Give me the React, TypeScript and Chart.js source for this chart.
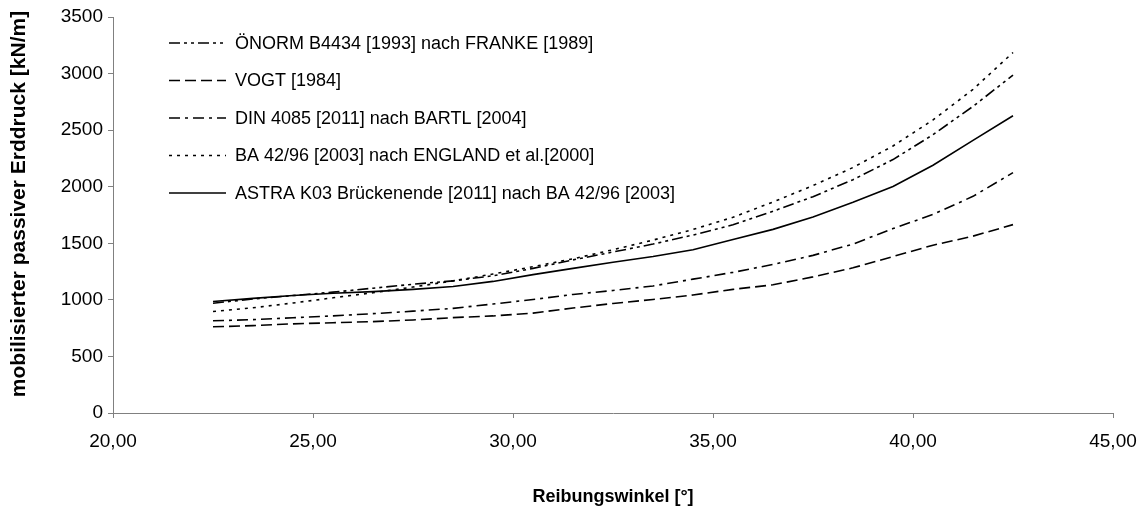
import React, { useEffect, useRef } from "react";
import { Chart, registerables } from "chart.js";

Chart.register(...registerables);

const angles = [22.5, 23.5, 24.5, 25.5, 26.5, 27.5, 28.5, 29.5, 30.5, 31.5, 32.5, 33.5, 34.5, 35.5, 36.5, 37.5, 38.5, 39.5, 40.5, 41.5, 42.5];

const onorm = [970, 1008, 1038, 1068, 1103, 1138, 1168, 1213, 1278, 1353, 1423, 1493, 1573, 1663, 1783, 1912, 2062, 2240, 2460, 2710, 2986];
const vogt = [762, 772, 788, 798, 808, 822, 843, 858, 883, 928, 968, 1003, 1043, 1093, 1133, 1203, 1283, 1383, 1483, 1563, 1665];
const din = [815, 825, 842, 858, 878, 900, 925, 963, 1003, 1048, 1083, 1123, 1183, 1243, 1313, 1393, 1493, 1630, 1755, 1915, 2124];
const ba = [897, 930, 972, 1018, 1063, 1113, 1168, 1228, 1293, 1363, 1443, 1528, 1622, 1730, 1865, 2010, 2170, 2360, 2590, 2860, 3186];
const astra = [985, 1013, 1038, 1058, 1073, 1093, 1118, 1163, 1223, 1278, 1333, 1383, 1443, 1533, 1623, 1733, 1862, 2002, 2190, 2410, 2627];

const seriesLabels = [
  "ÖNORM B4434 [1993] nach FRANKE [1989]",
  "VOGT [1984]",
  "DIN 4085 [2011] nach BARTL [2004]",
  "BA 42/96 [2003] nach ENGLAND et al.[2000]",
  "ASTRA K03 Brückenende [2011] nach BA 42/96 [2003]",
];
const seriesValues = [onorm, vogt, din, ba, astra];
const seriesDash = [[11, 4, 3, 4, 3, 4], [11, 5], [11, 5, 3, 5], [3, 5], []];

const xTitle = "Reibungswinkel [°]";
const yTitle = "mobilisierter passiver Erddruck [kN/m]";

const FONT = '"Liberation Sans", Arial, sans-serif';

const insideLegend = {
  id: "insideLegend",
  afterDatasetsDraw(chart: any) {
    const { ctx, chartArea } = chart;
    ctx.save();
    chart.data.datasets.forEach((ds: any, i: number) => {
      const y = chartArea.top + 26 + i * 37.5;
      const x0 = chartArea.left + 56;
      ctx.beginPath();
      ctx.setLineDash(ds.borderDash || []);
      ctx.lineWidth = ds.borderWidth;
      ctx.strokeStyle = ds.borderColor;
      ctx.moveTo(x0, y);
      ctx.lineTo(x0 + 57, y);
      ctx.stroke();
      ctx.setLineDash([]);
      ctx.fillStyle = "#000";
      ctx.font = "18px " + FONT;
      ctx.textBaseline = "middle";
      ctx.textAlign = "left";
      ctx.fillText(ds.label, x0 + 66, y + 1);
    });
    // y axis title
    ctx.save();
    ctx.translate(19, chartArea.top + 187);
    ctx.rotate(-Math.PI / 2);
    ctx.font = "bold 21px " + FONT;
    ctx.fillStyle = "#000";
    ctx.textAlign = "center";
    ctx.textBaseline = "middle";
    ctx.fillText(yTitle, 0, 0);
    ctx.restore();
    ctx.restore();
  },
};

export default function App() {
  const ref = useRef<HTMLCanvasElement | null>(null);

  useEffect(() => {
    if (!ref.current) return;
    const chart = new Chart(ref.current, {
      type: "line",
      data: {
        datasets: seriesLabels.map((label, i) => ({
          label,
          data: angles.map((a, j) => ({ x: a, y: seriesValues[i][j] })),
          borderColor: "#000",
          borderWidth: 1.6,
          borderDash: seriesDash[i],
          pointRadius: 0,
          tension: 0,
          fill: false,
        })),
      },
      options: {
        animation: false,
        responsive: false,
        devicePixelRatio: 1,
        layout: { padding: { left: 0, right: 33, top: 17, bottom: 0 } },
        plugins: {
          legend: { display: false },
          tooltip: { enabled: false },
        },
        scales: {
          x: {
            type: "linear",
            min: 20,
            max: 45,
            afterFit: (s: any) => {
              s.height = 93;
              s.paddingRight = 0;
            },
            ticks: {
              stepSize: 5,
              color: "#000",
              padding: 12,
              maxRotation: 0,
              font: { family: FONT, size: 19 },
              callback: (v: any) => Number(v).toFixed(2).replace(".", ","),
            },
            grid: { drawOnChartArea: false, drawTicks: true, tickLength: 5, color: "#808080" },
            border: { display: true, color: "#808080", width: 1 },
            title: {
              display: true,
              text: xTitle,
              color: "#000",
              font: { family: FONT, size: 18, weight: "bold", lineHeight: 1 },
              padding: { top: 0, bottom: 0 },
            },
          },
          y: {
            min: 0,
            max: 3500,
            afterFit: (s: any) => {
              s.width = 113;
            },
            ticks: {
              stepSize: 500,
              color: "#000",
              padding: 5,
              font: { family: FONT, size: 19 },
              callback: (v: any) => String(v),
            },
            grid: { drawOnChartArea: false, drawTicks: true, tickLength: 5, color: "#808080" },
            border: { display: true, color: "#808080", width: 1 },
          },
        },
      },
      plugins: [insideLegend],
    });
    return () => chart.destroy();
  }, []);

  return (
    <div style={{ position: "absolute", left: 0, top: 0, width: 1146, height: 506, background: "#fff" }}>
      <canvas ref={ref} width={1146} height={506} />
    </div>
  );
}
